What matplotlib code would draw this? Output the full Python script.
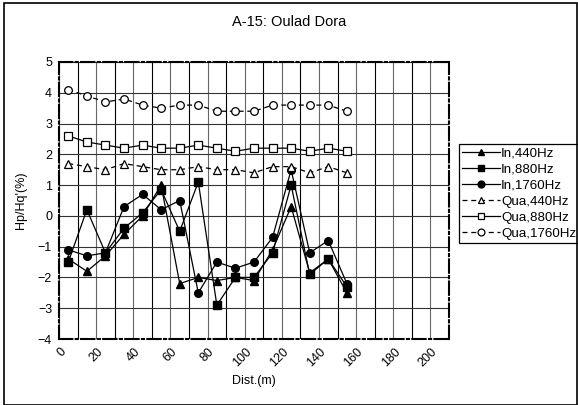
import matplotlib
matplotlib.use("Agg")
import matplotlib.pyplot as plt
from matplotlib.patches import Rectangle
from matplotlib.ticker import MultipleLocator
from matplotlib.transforms import ScaledTranslation

plt.rcParams['font.family'] = ['Liberation Sans', 'DejaVu Sans']

dist = [5, 15, 25, 35, 45, 55, 65, 75, 85, 95, 105, 115, 125, 135, 145, 155]
in_440 = [-1.4, -1.8, -1.3, -0.6, 0.0, 1.0, -2.2, -2.0, -2.1, -2.0, -2.1, -1.1, 0.3, -1.85, -1.4, -2.5]
in_880 = [-1.5, 0.2, -1.2, -0.4, 0.1, 0.85, -0.5, 1.1, -2.9, -2.0, -2.0, -1.2, 1.0, -1.9, -1.4, -2.3]
in_1760 = [-1.1, -1.3, -1.2, 0.3, 0.7, 0.2, 0.5, -2.5, -1.5, -1.7, -1.5, -0.7, 1.5, -1.2, -0.8, -2.2]
qua_440 = [1.7, 1.6, 1.5, 1.7, 1.6, 1.5, 1.5, 1.6, 1.5, 1.5, 1.4, 1.6, 1.6, 1.4, 1.6, 1.4]
qua_880 = [2.6, 2.4, 2.3, 2.2, 2.3, 2.2, 2.2, 2.3, 2.2, 2.1, 2.2, 2.2, 2.2, 2.1, 2.2, 2.1]
qua_1760 = [4.1, 3.9, 3.7, 3.8, 3.6, 3.5, 3.6, 3.6, 3.4, 3.4, 3.4, 3.6, 3.6, 3.6, 3.6, 3.4]
xticks = [0, 20, 40, 60, 80, 100, 120, 140, 160, 180, 200]

fig = plt.figure(figsize=(5.78, 4.05), dpi=100)
ax = fig.add_axes([59/578, 1-339/405, 390/578, 277/405])

dash = (0, (4, 3))
ms = 5.5
ax.plot(dist, in_440, color='black', lw=0.9, marker='^', ms=ms, mfc='black', mec='black', label='In,440Hz', zorder=3)
ax.plot(dist, in_880, color='black', lw=0.9, marker='s', ms=ms, mfc='black', mec='black', label='In,880Hz', zorder=3)
ax.plot(dist, in_1760, color='black', lw=0.9, marker='o', ms=ms, mfc='black', mec='black', label='In,1760Hz', zorder=3)
ax.plot(dist, qua_440, color='black', lw=0.9, ls=dash, marker='^', ms=ms, mfc='white', mec='black', mew=0.9, label='Qua,440Hz', zorder=3)
ax.plot(dist, qua_880, color='black', lw=0.9, marker='s', ms=ms, mfc='white', mec='black', mew=0.9, label='Qua,880Hz', zorder=3)
ax.plot(dist, qua_1760, color='black', lw=0.9, ls=dash, marker='o', ms=ms, mfc='white', mec='black', mew=0.9, label='Qua,1760Hz', zorder=3)

ax.set_xlim(0, 210)
ax.set_ylim(-4, 5)
ax.set_xticks(xticks)
ax.xaxis.set_minor_locator(MultipleLocator(10))
ax.yaxis.set_major_locator(MultipleLocator(1))
ax.grid(which='major', axis='x', color='#666666', lw=0.8)
ax.grid(which='minor', axis='x', color='black', lw=0.8)
ax.grid(which='major', axis='y', color='#333333', lw=0.8)
ax.set_axisbelow(True)
ax.tick_params(which='both', length=0, labelsize=9)
ax.tick_params(axis='y', pad=5)
ax.tick_params(axis='x', pad=8)
shift = ScaledTranslation(5/100, 0, fig.dpi_scale_trans)
for lbl in ax.get_xticklabels():
    lbl.set_rotation(45)
    lbl.set_ha('right')
    lbl.set_va('center')
    lbl.set_rotation_mode('anchor')
    lbl.set_transform(lbl.get_transform() + shift)

for s in ax.spines.values():
    s.set_linestyle('-.')
    s.set_linewidth(1.5)
    s.set_color('black')

ax.set_xlabel('Dist.(m)', fontsize=9, labelpad=4)
ax.set_ylabel("Hp/Hq'(%)", fontsize=9, labelpad=8)
fig.text(289/578, 1-22/405, 'A-15: Oulad Dora', ha='center', va='center', fontsize=10.5)

leg = ax.legend(loc='upper left', bbox_to_anchor=(459/578, 1-144/405), bbox_transform=fig.transFigure,
                fontsize=9.6, frameon=True, fancybox=False, edgecolor='black', framealpha=1,
                handlelength=2.8, borderpad=0.25, labelspacing=0.28, handletextpad=0.1,
                borderaxespad=0, markerscale=0.9)
leg.get_frame().set_linewidth(0.9)

fig.patches.append(Rectangle((4/578, 0), 1-4/578 - 0.002, 1-3/405, transform=fig.transFigure,
                             fill=False, edgecolor='black', lw=1.2))

fig.savefig('out.png', dpi=100)
